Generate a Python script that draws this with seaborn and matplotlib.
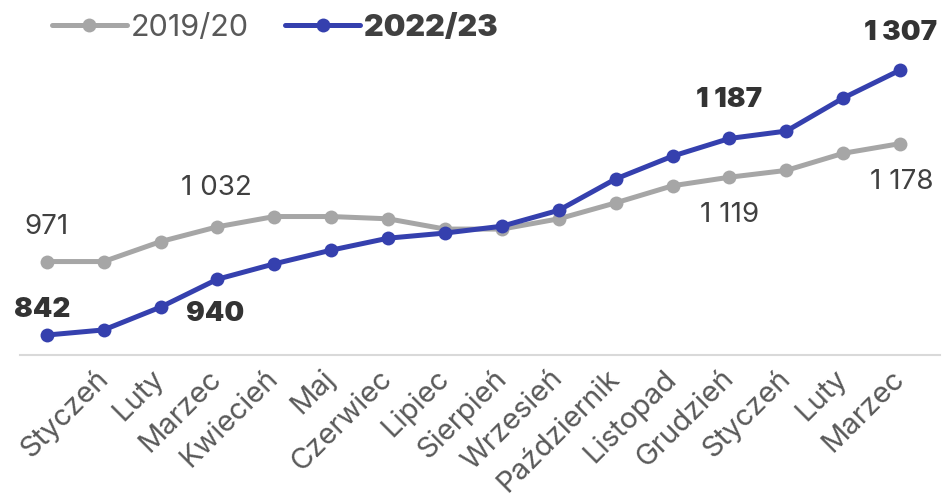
import pandas as pd
import matplotlib.pyplot as plt
import seaborn as sns

# data
months = ["", "Styczeń", "Luty", "Marzec", "Kwiecień", "Maj", "Czerwiec", "Lipiec",
          "Sierpień", "Wrzesień", "Październik", "Listopad", "Grudzień",
          "Styczeń", "Luty", "Marzec"]
s_2019 = [971, 971, 1006, 1032, 1050, 1050, 1046, 1028, 1028, 1046, 1074, 1104,
          1119, 1131, 1161, 1178]
s_2022 = [842, 851, 891, 940, 967, 991, 1012, 1021, 1033, 1061, 1116, 1156,
          1187, 1200, 1258, 1307]
labels_2019 = {0: "971", 3: "1 032", 12: "1 119", 15: "1 178"}
labels_2022 = {0: "842", 3: "940", 12: "1 187", 15: "1 307"}

gray = "#A6A6A6"
blue = "#3540AE"
txt = "#404040"

df = pd.DataFrame({"x": range(len(months)), "2019/20": s_2019, "2022/23": s_2022})

sns.set_style("white")
plt.rcParams["font.family"] = ["Inter", "DejaVu Sans"]

fig = plt.figure(figsize=(9.46, 4.98), dpi=100)
ax = fig.add_axes([20 / 946, 1 - 355 / 498, 920 / 946, 355 / 498])

sns.lineplot(data=df, x="x", y="2019/20", ax=ax, color=gray, lw=3.6,
             marker="o", markersize=10, markeredgewidth=0, label="2019/20")
sns.lineplot(data=df, x="x", y="2022/23", ax=ax, color=blue, lw=3.6,
             marker="o", markersize=10, markeredgewidth=0, label="2022/23")

# label offsets in points
off_2019 = {0: (0, 25), 3: (-1, 28), 12: (0, -27), 15: (1, -28)}
off_2022 = {0: (-3, 18), 3: (-2, -25), 12: (0, 28), 15: (0, 27)}
for i, t in labels_2019.items():
    ax.annotate(t, (i, s_2019[i]), xytext=off_2019[i], textcoords="offset points",
                ha="center", va="center", fontsize=20, color=txt)
for i, t in labels_2022.items():
    ax.annotate(t, (i, s_2022[i]), xytext=off_2022[i], textcoords="offset points",
                ha="center", va="center", fontsize=20, color="#333333", fontweight="black")

ax.set_xlim(-0.47, 15.7)
ax.set_ylim(807, 1430)
ax.set_xticks(range(len(months)))
ax.set_xticklabels(months, rotation=45, ha="right", va="center", rotation_mode="anchor",
                   fontsize=21, color="#595959")
ax.tick_params(axis="x", length=0, pad=14)
ax.set_yticks([])
ax.set_xlabel("")
ax.set_ylabel("")
for side in ["top", "left", "right"]:
    ax.spines[side].set_visible(False)
ax.spines["bottom"].set_color("#D9D9D9")
ax.spines["bottom"].set_linewidth(1.5)

leg = ax.legend(loc="upper left", bbox_to_anchor=(38 / 946, 1.0), bbox_transform=fig.transFigure,
                ncol=2, frameon=False, fontsize=22, handlelength=2.45, handletextpad=0.13,
                columnspacing=1.2, borderaxespad=0.05)
for t in leg.get_texts():
    t.set_color("#595959")
leg.get_texts()[1].set_fontweight("black")
leg.get_texts()[1].set_color("#404040")

fig.savefig("out.png", dpi=100)
